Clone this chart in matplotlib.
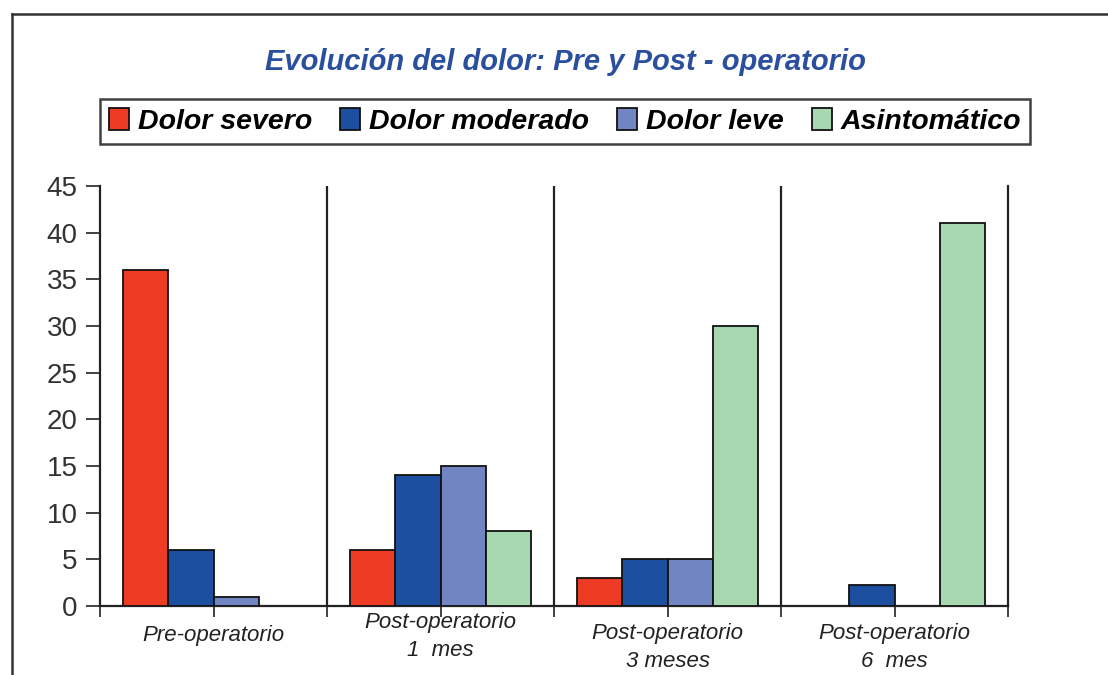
import matplotlib.pyplot as plt
from matplotlib.lines import Line2D
from matplotlib.patches import Patch
from matplotlib.transforms import blended_transform_factory

plt.rcParams['font.family'] = ['Liberation Sans', 'DejaVu Sans']

# datos
grupos = ['Pre-operatorio', 'Post-operatorio\n1  mes', 'Post-operatorio\n3 meses', 'Post-operatorio\n6  mes']
series = ['Dolor severo', 'Dolor moderado', 'Dolor leve', 'Asintomático']
severo = [36, 6, 3, 0]
moderado = [6, 14, 5, 2.2]
leve = [1, 15, 5, 0]
asintomatico = [0, 8, 30, 41]
colores = ['#ee3b24', '#1c4fa0', '#7085c2', '#a8d8b0']
yticks = [0, 5, 10, 15, 20, 25, 30, 35, 40, 45]

valores = [severo, moderado, leve, asintomatico]

fig = plt.figure(figsize=(11.08, 6.75), dpi=100)
ax = fig.add_axes([100 / 1108, 1 - 606 / 675, 908 / 1108, 420 / 675])

ancho = 0.2
for j, (nombre, vals) in enumerate(zip(series, valores)):
    xs = [i + 0.2 + ancho * j for i in range(len(grupos))]
    b = ax.bar(xs, vals, width=ancho, color=colores[j], edgecolor='#111111',
               linewidth=1.3, zorder=3)
    # ocultar barras de valor cero
    for rect, v in zip(b, vals):
        if v == 0:
            rect.set_visible(False)

ax.set_xlim(0, len(grupos))
ax.set_ylim(0, 45)
ax.set_yticks(yticks)
ax.set_yticklabels([str(t) for t in yticks], fontsize=20, color='#333333')
ax.tick_params(axis='y', direction='out', length=10, width=1.3, pad=6, colors='#333333')

ax.set_xticks([k * 0.5 for k in range(2 * len(grupos) + 1)])
ax.set_xticklabels([])
ax.tick_params(axis='x', direction='out', length=8, width=1.3, colors='#333333')

ax.spines['top'].set_visible(False)
for s in ['left', 'bottom', 'right']:
    ax.spines[s].set_linewidth(1.6)
    ax.spines[s].set_color('#222222')

# separadores de grupos
for i in range(1, len(grupos)):
    ax.axvline(i, color='#222222', linewidth=1.6, zorder=2)

# etiquetas de categorias
trans = blended_transform_factory(ax.transData, ax.transAxes)
offsets = [-0.045, -0.015, -0.04, -0.04]
for i, (g, off) in enumerate(zip(grupos, offsets)):
    ax.text(i + 0.5, off, g, transform=trans, ha='center', va='top', fontsize=16,
            style='italic', color='#222222', linespacing=1.45)

fig.text(0.51, 1 - 62 / 675, 'Evolución del dolor: Pre y Post - operatorio',
         ha='center', va='center', fontsize=21, fontweight='bold', style='italic',
         color='#2a4f9e')

handles = [Patch(facecolor=c, edgecolor='#111111', linewidth=1.3) for c in colores]
leg = fig.legend(handles=handles, labels=series, loc='center', ncol=4,
                 bbox_to_anchor=(565 / 1108, 1 - 121.5 / 675),
                 prop={'size': 20.5, 'weight': 'bold', 'style': 'italic'},
                 frameon=True, fancybox=False, edgecolor='#111111',
                 handlelength=0.7, handleheight=0.8, handletextpad=0.3,
                 columnspacing=1.0, borderpad=0.32, borderaxespad=0)
leg.get_frame().set_linewidth(1.8)

# marco exterior
fig.add_artist(Line2D([12 / 1108, 1], [1 - 14 / 675, 1 - 14 / 675], color='#333333', linewidth=1.8))
fig.add_artist(Line2D([12 / 1108, 12 / 1108], [0, 1 - 14 / 675], color='#333333', linewidth=1.8))

fig.savefig('out.png', dpi=100, facecolor='white')
